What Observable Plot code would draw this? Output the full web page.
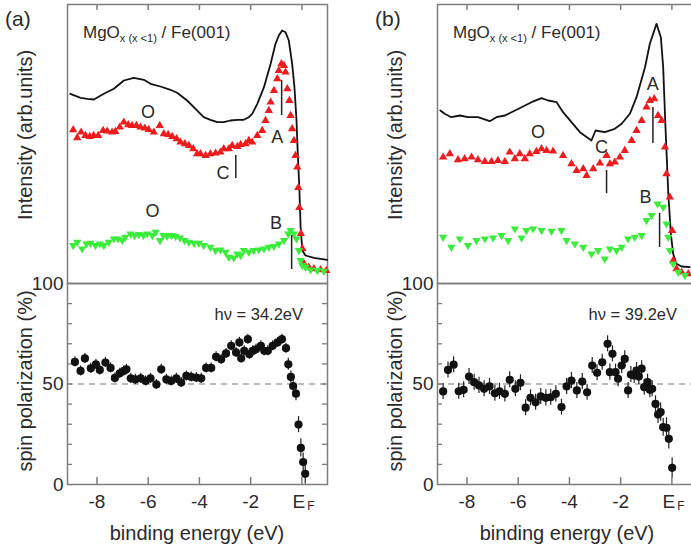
<!DOCTYPE html>
<html><head><meta charset="utf-8">
<script src="https://cdn.jsdelivr.net/npm/d3@7"></script>
<script src="https://cdn.jsdelivr.net/npm/@observablehq/plot@0.6"></script>
<style>
html,body{margin:0;padding:0;background:#fff;}
#wrap{position:relative;width:691px;height:553px;overflow:hidden;background:#fff;}
#wrap > svg, #wrap > div{position:absolute;}
</style></head><body><div id="wrap"></div>
<script>
// ---------- data ----------
const energyTicks = [-8, -6, -4, -2, 0];
const energyLabelTicks = [-8, -6, -4, -2];
const polTicks = [0, 50, 100];
const polMinorTicks = [10, 20, 30, 40, 50, 60, 70, 80, 90];
const panelLetters = ["(a)", "(b)"];
const hvLabels = ["hν = 34.2eV", "hν = 39.2eV"];

// panel (a) spectra
const totA_E = [-9.04,-8.64,-8.38,-8.12,-7.73,-7.34,-6.95,-6.56,-6.17,-5.91,-5.52,-5.13,-4.87,-4.48,-4.22,-3.96,-3.83,-3.57,-3.30,-3.05,-2.79,-2.52,-2.27,-2.07,-1.94,-1.74,-1.48,-1.22,-1.03,-0.90,-0.77,-0.64,-0.51,-0.38,-0.29,-0.21,-0.16,-0.10,-0.05,0.02,0.14,0.47,0.99];
const totA_I = [189.7,185.7,184.7,184,189.7,194.7,203,205.7,203.7,199.7,197,193.7,190.7,183,176.3,169.7,166.3,163.7,161.3,161.3,163,163.7,163.7,166.3,169.7,179.7,196.3,219.7,239.7,248,253,251.3,243,219.7,196.3,163,129.7,96.3,56.3,33,28,25.7,23.7];
const upA_E = [-8.93,-8.77,-8.62,-8.45,-8.28,-8.13,-7.95,-7.76,-7.60,-7.41,-7.28,-7.11,-6.95,-6.78,-6.63,-6.46,-6.30,-6.13,-5.98,-5.78,-5.55,-5.39,-5.22,-5.06,-4.89,-4.74,-4.57,-4.41,-4.24,-4.09,-3.96,-3.76,-3.57,-3.37,-3.18,-3.05,-2.85,-2.72,-2.52,-2.39,-2.20,-2.07,-1.94,-1.74,-1.55,-1.42,-1.29,-1.22,-1.09,-0.96,-0.90,-0.80,-0.70,-0.64,-0.57,-0.49,-0.44,-0.38,-0.31,-0.25,-0.18,-0.14,-0.10,-0.04,0.02,0.08,0.27,0.47,0.73,0.95];
const upA_I = [153.7,145.7,151.3,148,147,148,148,153,152.3,151.3,152,156.3,161.3,158.7,158,158,156.3,155.3,154,151.3,158,149.7,149,147,144.7,141.3,139.7,138,134.7,129.7,129.7,128,129.7,130.3,131.3,134.7,134.7,138,137,139,139.7,143,141.3,148,153,163,173,181.3,193,204.7,213,219.7,218,211.3,194.7,183,168,154.7,143,128,116.3,96,76,50,35,20,16.3,14.7,13.7,13];
const dnA_E = [-8.93,-8.77,-8.58,-8.41,-8.25,-8.06,-7.89,-7.73,-7.54,-7.34,-7.18,-7.01,-6.89,-6.69,-6.53,-6.36,-6.19,-6.04,-5.84,-5.71,-5.54,-5.41,-5.26,-5.09,-4.93,-4.76,-4.58,-4.41,-4.21,-4.02,-3.83,-3.57,-3.37,-3.18,-2.98,-2.85,-2.66,-2.52,-2.39,-2.27,-2.07,-1.88,-1.68,-1.48,-1.29,-1.09,-0.90,-0.70,-0.53,-0.44,-0.31,-0.21,-0.12,-0.05,0.02,0.14,0.34,0.60,0.86];
const dnA_I = [38,41.3,34.7,39.7,40.3,38,39.7,38,41.3,44.7,44.7,43,46.3,49.7,48,49,48,49.7,48,51.3,43,48,47.3,48,47,45.7,43,41.3,40.3,40.3,38,36.3,33,33.7,31.3,26.3,25.7,29.7,28,33,31.3,33,33.7,34.7,36.3,37,39.7,43,49.7,53,49.7,44.7,33,23,18,16.3,13.7,13,12.3];
// panel (a) spin polarization
const polA_E = [-8.86,-8.64,-8.47,-8.24,-8.04,-7.89,-7.67,-7.47,-7.30,-7.11,-6.95,-6.85,-6.68,-6.50,-6.29,-6.10,-5.91,-5.68,-5.49,-5.29,-5.10,-4.90,-4.71,-4.51,-4.32,-4.12,-3.93,-3.74,-3.54,-3.35,-3.15,-2.96,-2.76,-2.57,-2.44,-2.37,-2.25,-2.11,-2.05,-1.92,-1.79,-1.60,-1.47,-1.33,-1.14,-0.95,-0.78,-0.62,-0.53,-0.43,-0.34,-0.23,-0.13,-0.04,0.05,0.13];
const polA_P = [61,56.5,62.7,57.8,59.8,57,60.7,58,53,55.3,56.5,57.3,52.8,52.3,52.8,51.5,52.8,49.8,57.3,52.3,51.5,52.8,50.7,54,53.5,53.2,52.8,58,58,63.5,62.3,65.2,69,65.7,70.7,62.8,66.5,72.3,64.8,66.5,67.3,69,66.5,66.5,69,70.7,72.3,67.8,59.8,53.5,49,45.2,29.8,18.2,11.2,5.3];
const polA_err = [2.5,2.5,2.5,2.5,2.5,2.5,2.5,2.5,2.5,2.5,2.5,2.5,2.5,2.5,2.5,2.5,2.5,2.5,2.5,2.5,2.5,2.5,2.5,2.5,2.5,2.5,2.5,2.5,2.5,2.5,2.5,2.5,2.5,2.5,2.5,2.5,2.5,2.5,2.5,2.5,2.5,2.5,2.5,2.5,2.5,2.5,2.5,2.5,3,3,3.5,3.5,4,4.5,4.5,5];

// panel (b) spectra
const totB_E = [-9.04,-8.87,-8.61,-8.28,-7.96,-7.57,-7.11,-6.85,-6.52,-6.26,-5.87,-5.48,-5.09,-4.83,-4.50,-4.25,-3.92,-3.59,-3.14,-2.98,-2.62,-2.23,-1.96,-1.64,-1.38,-1.25,-1.05,-0.86,-0.73,-0.60,-0.43,-0.34,-0.25,-0.14,-0.04,0.05,0.18,0.38,0.70];
const totB_I = [173,169.7,166.3,168,166.3,166.3,162.3,166.3,168,171.3,176.3,181.3,185.3,183,181.3,171.3,161.3,151.3,143,153,151.3,154.7,159.7,169.7,186.3,198,216.3,239.7,249.7,259.7,246.3,216.3,156.3,89.7,49.7,29.7,19.7,17,16.3];
const upB_E = [-8.93,-8.67,-8.35,-8.09,-7.82,-7.57,-7.30,-7.04,-6.79,-6.52,-6.33,-6.13,-5.94,-5.74,-5.55,-5.29,-5.09,-4.89,-4.64,-4.25,-3.92,-3.72,-3.46,-3.33,-3.07,-2.81,-2.55,-2.42,-2.23,-2.03,-1.84,-1.57,-1.38,-1.18,-0.99,-0.86,-0.69,-0.54,-0.40,-0.27,-0.21,-0.08,0.01,0.05,0.18,0.38,0.64];
const upB_I = [126.3,129.7,123.7,124.7,126.3,123.7,122,122,123,122,131.3,124.7,129.7,124.7,129.7,132,134.7,133,132.3,128,119.7,113,114.7,108,114.7,120.3,128,119.7,121.3,126.3,133,143,153,163,176.3,183,184.7,168,163,136.3,109.7,86.3,53,23,14.7,11.3,9.7];
const dnB_E = [-8.93,-8.61,-8.28,-7.96,-7.63,-7.30,-6.98,-6.65,-6.39,-6.13,-5.87,-5.68,-5.42,-5.09,-4.70,-4.31,-4.11,-3.79,-3.46,-3.14,-2.88,-2.62,-2.42,-2.16,-1.96,-1.71,-1.45,-1.18,-0.99,-0.79,-0.56,-0.34,-0.21,-0.14,-0.08,0.05,0.25,0.51];
const dnB_I = [46.3,36.3,44.7,38,43,44.7,45.7,48,43,54.7,45.7,53,54.7,53,52.3,53,43,39.7,36.3,29.7,33,24.7,34.7,33,36.3,44.7,46.3,48,63,68,79.7,76.3,59.7,46.3,33,19.7,11.3,8];
// panel (b) spin polarization
const polB_E = [-8.93,-8.74,-8.52,-8.32,-8.13,-7.92,-7.72,-7.53,-7.33,-7.12,-6.91,-6.73,-6.52,-6.33,-6.11,-5.91,-5.71,-5.52,-5.32,-5.12,-4.92,-4.73,-4.53,-4.31,-4.11,-3.92,-3.71,-3.50,-3.31,-3.11,-2.92,-2.72,-2.51,-2.42,-2.32,-2.20,-2.10,-1.96,-1.84,-1.71,-1.60,-1.47,-1.38,-1.29,-1.18,-1.08,-0.95,-0.86,-0.77,-0.64,-0.54,-0.44,-0.34,-0.21,-0.12,0.01];
const polB_P = [46.3,57,59.6,46.4,47.1,53.7,50.9,49.3,47.6,48.8,45.4,46.4,45.1,52.1,47.6,50.6,38.2,43.1,40.9,43.8,43.1,43.4,45.1,38.5,48.8,51.7,46.8,51.2,45.9,59.2,55.6,60.8,70,55.9,65,55.9,52.6,59.2,62.5,46.8,54.7,54.2,56.7,53.7,57.6,48.4,50.9,47.1,47.6,40.1,34.8,36,28.5,28.2,22.7,8.3];
const polB_err = [4,4,4,4,4,4,4,4,4,4,4,4,4,4,4,4,4,4,4,4,4,4,4,4,4,4,4,4,4,4,4,4,4,4,4,4,4,4,4,4,4,4,4,4,4,4,4,4,4,4,4.5,4.5,4.5,5,5,5];

// annotations (energy, intensity)
const labelsA = [{t:"O",e:-6.01,v:171},{t:"O",e:-5.83,v:72},{t:"A",e:-0.96,v:146},{t:"C",e:-3.08,v:110},{t:"B",e:-1.01,v:60}];
const markersA = [{e:-0.79,y1:168,y2:203},{e:-2.58,y1:105,y2:128},{e:-0.40,y1:14,y2:48}];
const labelsB = [{t:"O",e:-5.23,v:151},{t:"C",e:-2.75,v:136},{t:"A",e:-0.75,v:199},{t:"B",e:-1.03,v:86}];
const markersB = [{e:-0.74,y1:140,y2:176},{e:-2.55,y1:90,y2:113},{e:-0.48,y1:36,y2:70}];

// ---------- drawing ----------
const FONT = "'Liberation Sans', Arial, Helvetica, sans-serif";
const TEXT = "#2a2a2a";
const AXIS = "#7d7d7d";
const RED = "#ee1c1c";
const GREEN = "#3cec3c";
const X_DOMAIN = [-9.15, 1.0];
const zip = (E, V) => E.map((e, i) => ({e, v: V[i]}));
const zip3 = (E, V, R) => E.map((e, i) => ({e, v: V[i], err: R[i]}));
const baseStyle = {background: "transparent", fontFamily: FONT, color: TEXT, overflow: "visible"};

function topPanel(tot, up, dn, labels, markers) {
  return Plot.plot({
    width: 345, height: 283,
    marginLeft: 67, marginRight: 18, marginTop: 4, marginBottom: 0,
    style: baseStyle,
    x: {domain: X_DOMAIN, axis: null},
    y: {domain: [0, 279], axis: null},
    marks: [
      Plot.frame({stroke: AXIS, strokeWidth: 1.5}),
      Plot.tickX(energyTicks, {x: d => d, insetBottom: 273, stroke: AXIS, strokeWidth: 1.5}),
      Plot.line(tot, {x: "e", y: "v", stroke: "#111", strokeWidth: 1.8}),
      Plot.dot(up, {x: "e", y: "v", symbol: "triangle", r: 3.1, fill: RED}),
      Plot.dot(dn, {x: "e", y: "v", symbol: "triangle", rotate: 180, r: 3.1, fill: GREEN}),
      Plot.ruleX(markers, {x: "e", y1: "y1", y2: "y2", stroke: "#222", strokeWidth: 1.5}),
      Plot.text(labels, {x: "e", y: "v", text: "t", fontSize: 18, fill: TEXT})
    ]
  });
}

function bottomPanel(pol) {
  return Plot.plot({
    width: 345, height: 280,
    marginLeft: 67, marginRight: 18, marginTop: 10, marginBottom: 69,
    style: baseStyle,
    x: {domain: X_DOMAIN},
    y: {domain: [0, 100]},
    marks: [
      Plot.ruleY([50], {stroke: "#777", strokeWidth: 1.2, strokeDasharray: "6,5"}),
      Plot.frame({stroke: AXIS, strokeWidth: 1.5}),
      Plot.tickY(polMinorTicks, {y: d => d, insetRight: 255, stroke: AXIS, strokeWidth: 1.3}),
      Plot.tickY(polMinorTicks, {y: d => d, insetLeft: 255, stroke: AXIS, strokeWidth: 1.3}),
      Plot.tickX(energyTicks, {x: d => d, insetTop: 194, stroke: AXIS, strokeWidth: 1.5}),
      Plot.axisY(polTicks, {tickSize: 0, tickPadding: 4, fontSize: 19, label: null}),
      Plot.axisX(energyLabelTicks, {tickSize: 0, tickPadding: 10, fontSize: 19, label: null, tickFormat: d => String(d)}),
      Plot.text([0], {x: d => d, frameAnchor: "bottom", lineAnchor: "top", dy: 10, dx: -3, text: () => "E", fontSize: 19, fill: TEXT}),
      Plot.text([0], {x: d => d, frameAnchor: "bottom", dy: 25, dx: 9, text: () => "F", fontSize: 12, fill: TEXT}),
      Plot.ruleX(pol, {x: "e", y1: d => d.v - d.err, y2: d => d.v + d.err, stroke: "#222", strokeWidth: 1.2}),
      Plot.dot(pol, {x: "e", y: "v", r: 4.1, fill: "#111"})
    ]
  });
}

const wrap = document.getElementById("wrap");
const cols = [
  {left: 0, tot: zip(totA_E, totA_I), up: zip(upA_E, upA_I), dn: zip(dnA_E, dnA_I), labels: labelsA, markers: markersA, pol: zip3(polA_E, polA_P, polA_err), hvX: 303},
  {left: 370, tot: zip(totB_E, totB_I), up: zip(upB_E, upB_I), dn: zip(dnB_E, dnB_I), labels: labelsB, markers: markersB, pol: zip3(polB_E, polB_P, polB_err), hvX: 307}
];
cols.forEach(c => {
  const t = topPanel(c.tot, c.up, c.dn, c.labels, c.markers);
  t.style.position = "absolute"; t.style.left = c.left + "px"; t.style.top = "0px";
  wrap.appendChild(t);
  const b = bottomPanel(c.pol);
  b.style.position = "absolute"; b.style.left = c.left + "px"; b.style.top = "273px";
  wrap.appendChild(b);
});

// text overlay
const ov = d3.select(wrap).append("svg")
  .attr("width", 691).attr("height", 553)
  .style("left", "0px").style("top", "0px")
  .style("font-family", FONT).style("fill", TEXT).style("pointer-events", "none");
cols.forEach((c, i) => {
  const g = ov.append("g").attr("transform", `translate(${c.left},0)`);
  g.append("text").attr("x", 5).attr("y", 26).attr("font-size", 21).text(panelLetters[i]);
  const title = g.append("text").attr("x", 83).attr("y", 38).attr("font-size", 17);
  title.append("tspan").text("MgO");
  title.append("tspan").attr("font-size", 11).attr("dy", 4).text("x (x <1)");
  title.append("tspan").attr("dy", -4).text(" / Fe(001)");
  g.append("text").attr("transform", "translate(32,135) rotate(-90)")
    .attr("text-anchor", "middle").attr("font-size", 20).text("Intensity (arb.units)");
  g.append("text").attr("transform", "translate(32,381) rotate(-90)")
    .attr("text-anchor", "middle").attr("font-size", 20).text("spin polarization (%)");
  g.append("text").attr("x", 197).attr("y", 540).attr("text-anchor", "middle")
    .attr("font-size", 20).text("binding energy (eV)");
  g.append("text").attr("x", c.hvX).attr("y", 320).attr("text-anchor", "end")
    .attr("font-size", 16.5).text(hvLabels[i]);
});
</script>
</body></html>
